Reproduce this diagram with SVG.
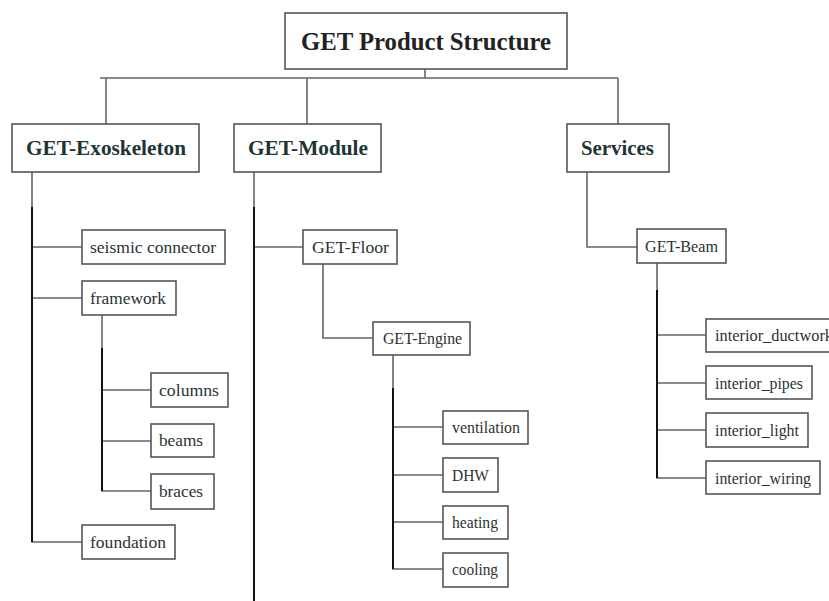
<svg xmlns="http://www.w3.org/2000/svg" width="829" height="601" viewBox="0 0 829 601">
<style>
.box{fill:#fff;stroke:#555;stroke-width:1.6}
.ln{fill:none;stroke:#666;stroke-width:1.6}
.dk{fill:none;stroke:#111;stroke-width:2}
text{font-family:'Liberation Serif','Times New Roman','DejaVu Serif',serif}
.t0{font-weight:bold;font-size:25px;fill:#222}
.t1{font-weight:bold;font-size:21px;fill:#1d3535}
.t2{font-size:16px;fill:#2a3333}
</style>
<rect width="829" height="601" fill="#fff"/>
<g id="connectors">
<path class="ln" d="M425 69V78M100 78H618M106 78V124M307 78V124M618 78V124"/>
<path class="ln" d="M32 172V542H82M32 247H82M32 298H82"/>
<path class="dk" d="M32 207V542"/>
<path class="ln" d="M102 315V491H151M102 390H151M102 441H151"/>
<path class="dk" d="M102 348V491"/>
<path class="ln" d="M254 172V601M254 247H303"/>
<path class="dk" d="M254 207V601"/>
<path class="ln" d="M323 264V338H373"/>
<path class="ln" d="M393 355V569H443M393 427H443M393 475H443M393 522H443"/>
<path class="dk" d="M393 388V569"/>
<path class="ln" d="M587 172V247H637"/>
<path class="ln" d="M657 263V478H706M657 335H706M657 383H706M657 430H706"/>
<path class="dk" d="M657 290V478"/>
</g>
<g id="root"><rect class="box" x="285" y="13" width="282" height="56"/><text class="t0" x="301" y="50" textLength="250" lengthAdjust="spacingAndGlyphs">GET Product Structure</text></g>
<g id="exo"><rect class="box" x="12" y="124" width="187" height="48"/><text class="t1" x="26" y="155" textLength="160" lengthAdjust="spacingAndGlyphs">GET-Exoskeleton</text></g>
<g id="module"><rect class="box" x="234" y="124" width="147" height="48"/><text class="t1" x="248" y="155" textLength="120" lengthAdjust="spacingAndGlyphs">GET-Module</text></g>
<g id="services"><rect class="box" x="567" y="124" width="102" height="48"/><text class="t1" x="581" y="155" textLength="73" lengthAdjust="spacingAndGlyphs">Services</text></g>
<g id="seismic"><rect class="box" x="82" y="230" width="143" height="34"/><text class="t2" x="90" y="253" textLength="126" lengthAdjust="spacingAndGlyphs">seismic connector</text></g>
<g id="framework"><rect class="box" x="82" y="281" width="94" height="34"/><text class="t2" x="90" y="304" textLength="76" lengthAdjust="spacingAndGlyphs">framework</text></g>
<g id="columns"><rect class="box" x="151" y="373" width="77" height="34"/><text class="t2" x="159" y="396" textLength="60" lengthAdjust="spacingAndGlyphs">columns</text></g>
<g id="beams"><rect class="box" x="151" y="424" width="63" height="33"/><text class="t2" x="159" y="446" textLength="44" lengthAdjust="spacingAndGlyphs">beams</text></g>
<g id="braces"><rect class="box" x="151" y="474" width="63" height="35"/><text class="t2" x="159" y="497" textLength="44" lengthAdjust="spacingAndGlyphs">braces</text></g>
<g id="foundation"><rect class="box" x="82" y="525" width="93" height="34"/><text class="t2" x="90" y="548" textLength="76" lengthAdjust="spacingAndGlyphs">foundation</text></g>
<g id="floor"><rect class="box" x="303" y="230" width="94" height="34"/><text class="t2" x="312" y="253" textLength="77" lengthAdjust="spacingAndGlyphs">GET-Floor</text></g>
<g id="engine"><rect class="box" x="373" y="322" width="97" height="33"/><text class="t2" x="383" y="344" textLength="79" lengthAdjust="spacingAndGlyphs">GET-Engine</text></g>
<g id="ventilation"><rect class="box" x="443" y="411" width="85" height="33"/><text class="t2" x="452" y="433" textLength="68" lengthAdjust="spacingAndGlyphs">ventilation</text></g>
<g id="dhw"><rect class="box" x="443" y="458" width="55" height="34"/><text class="t2" x="452" y="481" textLength="37" lengthAdjust="spacingAndGlyphs">DHW</text></g>
<g id="heating"><rect class="box" x="443" y="506" width="65" height="33"/><text class="t2" x="452" y="528" textLength="46" lengthAdjust="spacingAndGlyphs">heating</text></g>
<g id="cooling"><rect class="box" x="443" y="553" width="65" height="34"/><text class="t2" x="452" y="575" textLength="46" lengthAdjust="spacingAndGlyphs">cooling</text></g>
<g id="beam"><rect class="box" x="637" y="229" width="89" height="34"/><text class="t2" x="645" y="252" textLength="73" lengthAdjust="spacingAndGlyphs">GET-Beam</text></g>
<g id="ductwork"><rect class="box" x="706" y="319" width="130" height="33"/><text class="t2" x="715" y="341" textLength="118" lengthAdjust="spacingAndGlyphs">interior_ductwork</text></g>
<g id="pipes"><rect class="box" x="706" y="366" width="106" height="33"/><text class="t2" x="715" y="389" textLength="88" lengthAdjust="spacingAndGlyphs">interior_pipes</text></g>
<g id="light"><rect class="box" x="706" y="413" width="102" height="34"/><text class="t2" x="715" y="436" textLength="84" lengthAdjust="spacingAndGlyphs">interior_light</text></g>
<g id="wiring"><rect class="box" x="706" y="461" width="114" height="33"/><text class="t2" x="715" y="484" textLength="96" lengthAdjust="spacingAndGlyphs">interior_wiring</text></g>
</svg>
